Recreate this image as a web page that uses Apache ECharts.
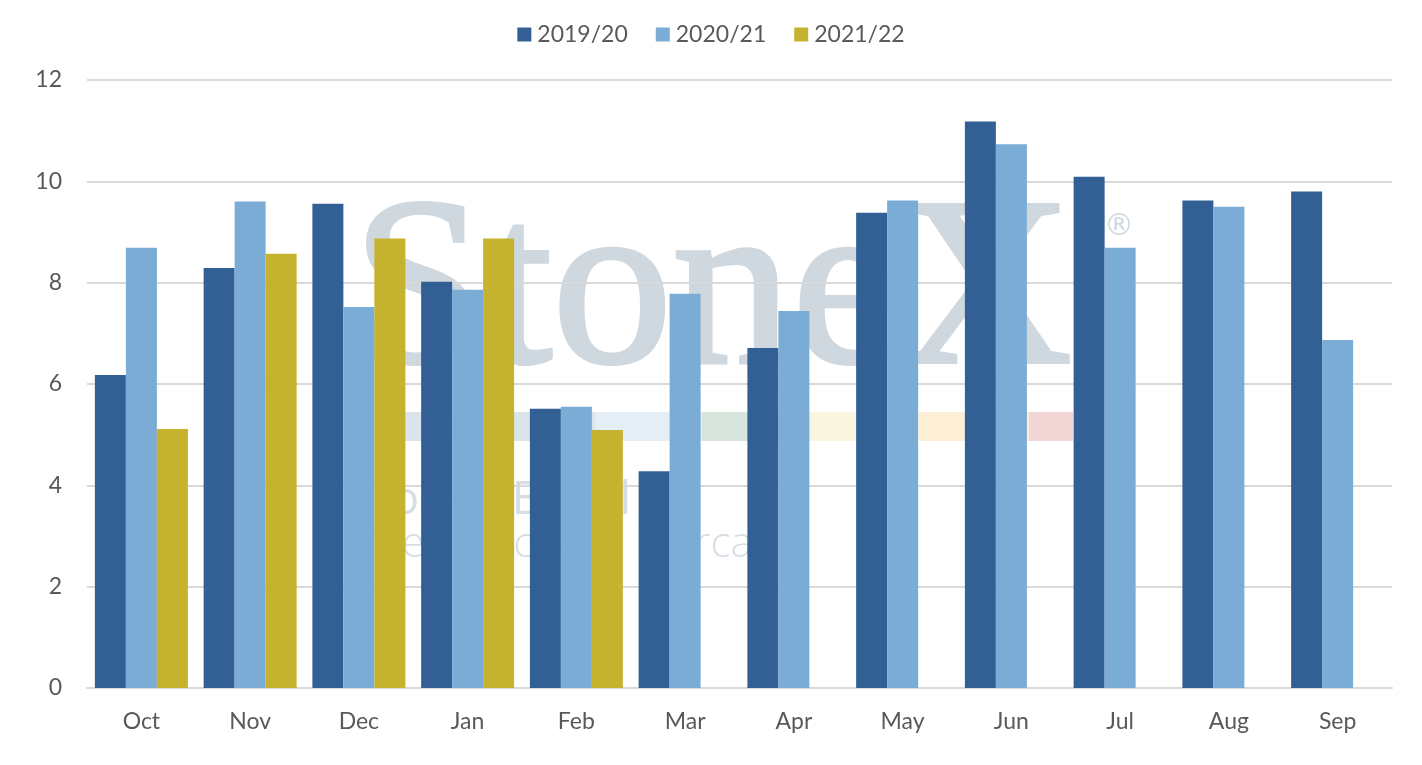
<!DOCTYPE html>
<html>
<head>
<meta charset="utf-8">
<script src="https://cdn.jsdelivr.net/npm/echarts@6/dist/echarts.min.js"></script>
<style>
html,body{margin:0;padding:0;background:#fff;}
#chart{width:1422px;height:765px;}
</style>
</head>
<body>
<div id="chart"></div>
<script>
const categories = ['Oct','Nov','Dec','Jan','Feb','Mar','Apr','May','Jun','Jul','Aug','Sep'];
const seriesNames = ['2019/20','2020/21','2021/22'];
const s2019 = [6.18, 8.29, 9.56, 8.02, 5.51, 4.28, 6.71, 9.38, 11.18, 10.09, 9.62, 9.80];
const s2020 = [8.69, 9.60, 7.52, 7.86, 5.55, 7.78, 7.44, 9.62, 10.73, 8.69, 9.50, 6.87];
const s2021 = [5.11, 8.57, 8.87, 8.87, 5.09, null, null, null, null, null, null, null];
const colors = ['#336094', '#7AACD5', '#C5B22E'];
const FONT = 'Lato';
const TXT = '#595959';

const chart = echarts.init(document.getElementById('chart'));
const wm = '#cfd8df';
chart.setOption({
  animation: false,
  color: colors,
  textStyle: { fontFamily: FONT },
  graphic: [
    { type: 'text', left: 350, top: 177, z: 0, silent: true,
      style: { text: 'StoneX', font: '240px "Liberation Serif"', fill: wm, stroke: wm, lineWidth: 4 } },
    { type: 'text', left: 1104, top: 212, z: 0, silent: true,
      style: { text: '®', font: '30px "DejaVu Sans"', fill: wm } },
    { type: 'rect', z: 0, silent: true, shape: { x: 405, y: 412, width: 190, height: 29 }, style: { fill: '#dbe3eb' } },
    { type: 'rect', z: 0, silent: true, shape: { x: 595, y: 412, width: 107, height: 29 }, style: { fill: '#e4eef6' } },
    { type: 'rect', z: 0, silent: true, shape: { x: 702, y: 412, width: 107, height: 29 }, style: { fill: '#d7e5dd' } },
    { type: 'rect', z: 0, silent: true, shape: { x: 809, y: 412, width: 110, height: 29 }, style: { fill: '#faf5df' } },
    { type: 'rect', z: 0, silent: true, shape: { x: 919, y: 412, width: 110, height: 29 }, style: { fill: '#fdefd5' } },
    { type: 'rect', z: 0, silent: true, shape: { x: 1029, y: 412, width: 44, height: 29 }, style: { fill: '#f2d6d6' } },
    { type: 'text', left: 350, top: 478, z: 0, silent: true,
      style: { text: 'StoneX Brasil', font: '46px "Open Sans"', fill: '#d6dee5' } },
    { type: 'text', left: 352, top: 524, z: 0, silent: true,
      style: { text: 'Inteligência de Mercado', font: '300 42px "Open Sans"', fill: '#d6dee5' } }
  ],
  legend: {
    top: 18,
    left: 'center',
    itemWidth: 14,
    itemHeight: 14,
    itemGap: 28,
    icon: 'rect',
    textStyle: { color: TXT, fontSize: 23, fontFamily: FONT, padding: [0, 0, 0, 1] },
    data: seriesNames
  },
  grid: { left: 87, right: 30, top: 80, bottom: 77, containLabel: false },
  xAxis: {
    type: 'category',
    data: categories,
    axisTick: { show: false },
    axisLine: { lineStyle: { color: '#d9d9d9', width: 2 } },
    axisLabel: { color: TXT, fontSize: 23, margin: 22, fontFamily: FONT }
  },
  yAxis: {
    type: 'value',
    min: 0, max: 12, interval: 2,
    axisLine: { show: false },
    axisTick: { show: false },
    splitLine: { lineStyle: { color: '#d9d9d9', width: 2 } },
    axisLabel: { color: TXT, fontSize: 23, margin: 25, fontFamily: FONT }
  },
  series: [
    { name: seriesNames[0], type: 'bar', data: s2019, barWidth: 31, barGap: '0%', z: 2 },
    { name: seriesNames[1], type: 'bar', data: s2020, barWidth: 31, barGap: '0%', z: 2 },
    { name: seriesNames[2], type: 'bar', data: s2021, barWidth: 31, barGap: '0%', z: 2 }
  ]
});
</script>
</body>
</html>
